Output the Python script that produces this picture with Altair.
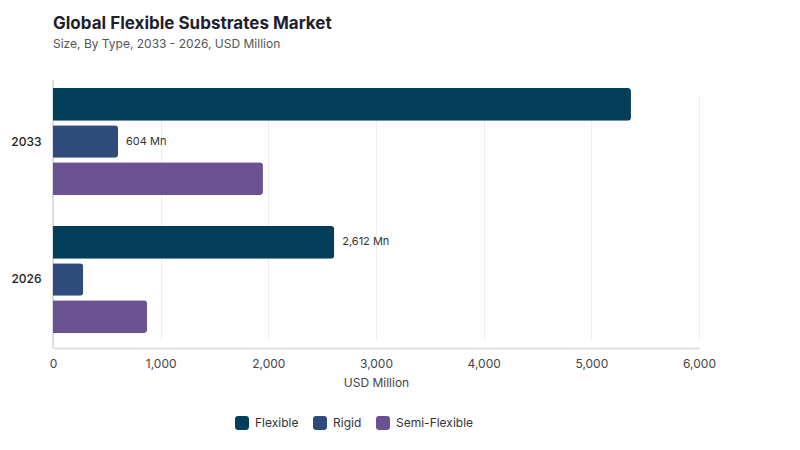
import altair as alt
import pandas as pd

years = ["2033", "2033", "2033", "2026", "2026", "2026"]
types = ["Flexible", "Rigid", "Semi-Flexible", "Flexible", "Rigid", "Semi-Flexible"]
values = [5368, 604, 1950, 2612, 280, 873]
labels = ["", "604 Mn", "", "2,612 Mn", "", ""]

type_order = ["Flexible", "Rigid", "Semi-Flexible"]
type_colors = ["#023e5a", "#2f4b7c", "#6a5192"]
year_order = ["2033", "2026"]

df = pd.DataFrame({"year": years, "type": types, "value": values, "label": labels})

FONT = "Inter"
rounded = "M-0.55,-1 L0.55,-1 Q1,-1 1,-0.55 L1,0.55 Q1,1 0.55,1 L-0.55,1 Q-1,1 -1,0.55 L-1,-0.55 Q-1,-1 -0.55,-1 Z"

x_enc = alt.X("value:Q", scale=alt.Scale(domain=[0, 6000]),
              axis=alt.Axis(title="USD Million", values=[0, 1000, 2000, 3000, 4000, 5000, 6000],
                            format=",.0f", labelFont=FONT, labelFontSize=12, labelColor="#444",
                            labelFontWeight=400, titleFont=FONT, titleFontSize=12,
                            titleFontWeight=400, titleColor="#444", titlePadding=8,
                            ticks=False, labelPadding=10, labelFlush=False,
                            domainColor="#dddddd", domainWidth=2,
                            gridColor="#eeeeee", gridWidth=1))
y_enc = alt.Y("year:N", sort=year_order,
              scale=alt.Scale(range=[8, 253], paddingInner=0.2246, paddingOuter=0),
              axis=alt.Axis(title=None, labelFont=FONT, labelFontSize=12, labelFontWeight=500,
                            labelColor="#222", labelPadding=12, ticks=False,
                            domain=False, grid=False))
yoff = alt.YOffset("type:N", sort=type_order, scale=alt.Scale(paddingInner=0.12))

axis_line = alt.Chart(df).mark_rule(color="#dddddd", strokeWidth=2).encode(
    x=alt.value(0), y=alt.value(0), y2=alt.value(268)
)

bars = alt.Chart(df).mark_bar(cornerRadiusEnd=3).encode(
    x=x_enc,
    y=y_enc,
    yOffset=yoff,
    color=alt.Color("type:N", sort=type_order,
                    scale=alt.Scale(domain=type_order, range=type_colors),
                    legend=alt.Legend(title=None, orient="none", direction="horizontal",
                                      legendX=182, legendY=336,
                                      symbolType=rounded, symbolSize=196, symbolStrokeWidth=0,
                                      labelFont=FONT, labelFontSize=12, labelColor="#333",
                                      columnPadding=14, labelOffset=6)),
)

text = alt.Chart(df).mark_text(align="left", baseline="middle", dx=8, font=FONT,
                               fontSize=11, color="#333").encode(
    x=x_enc,
    y=y_enc,
    yOffset=yoff,
    text="label:N",
)

chart = alt.layer(axis_line, bars, text).properties(
    width=646, height=268,
    background="white",
    title=alt.TitleParams("Global Flexible Substrates Market",
                          subtitle="Size, By Type, 2033 - 2026, USD Million",
                          anchor="start", frame="group", font=FONT, fontSize=17,
                          fontWeight=700, color="#1e1e2e", subtitleFont=FONT,
                          subtitleFontSize=12, subtitleColor="#555", subtitlePadding=6,
                          offset=28),
    autosize=alt.AutoSizeParams(type="none"),
    padding={"left": 53, "top": 80, "right": 101, "bottom": 102},
).configure_view(stroke=None)

chart.save("out.html", embed_options={"renderer": "svg", "actions": False})
